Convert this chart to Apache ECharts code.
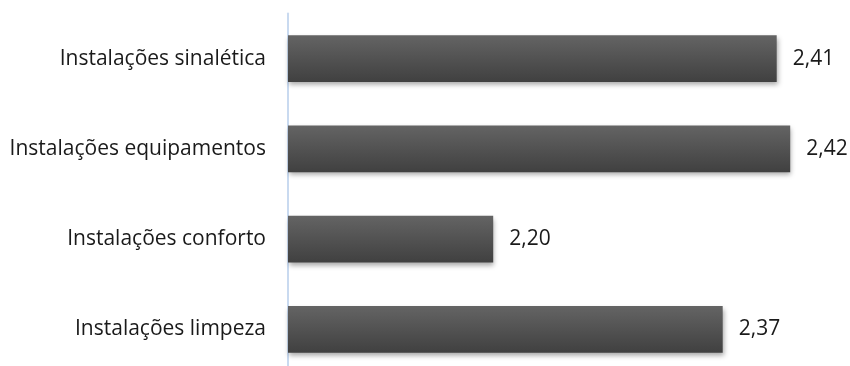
<!DOCTYPE html>
<html>
<head>
<meta charset="utf-8">
<script src="https://cdn.jsdelivr.net/npm/echarts@6/dist/echarts.min.js"></script>
<style>
  html, body { margin: 0; padding: 0; background: #ffffff; }
  #chart { width: 850px; height: 366px; }
</style>
</head>
<body>
<div id="chart"></div>
<script>
// Categories listed top to bottom
const categories = [
  'Instalações sinalética',
  'Instalações equipamentos',
  'Instalações conforto',
  'Instalações limpeza'
];
const scores = [2.41, 2.42, 2.20, 2.37];

const chart = echarts.init(document.getElementById('chart'));

chart.setOption({
  animation: false,
  backgroundColor: '#ffffff',
  grid: { left: 288, top: 13.5, height: 361, width: 540, outerBoundsMode: 'none' },
  xAxis: {
    type: 'value',
    min: 2.048,
    max: 2.448,
    show: false
  },
  yAxis: {
    type: 'category',
    data: categories,
    inverse: true,
    axisLine: { show: true, lineStyle: { color: '#c9daf0', width: 2 } },
    axisTick: { show: false },
    axisLabel: {
      margin: 22,
      color: '#1a1a1a',
      fontFamily: 'Open Sans',
      fontSize: 21
    }
  },
  series: [{
    type: 'bar',
    data: scores,
    barCategoryGap: '48%',
    itemStyle: {
      color: new echarts.graphic.LinearGradient(0, 0, 0, 1, [
        { offset: 0, color: '#646464' },
        { offset: 1, color: '#404040' }
      ]),
      shadowColor: 'rgba(0,0,0,0.35)',
      shadowBlur: 5,
      shadowOffsetX: 1,
      shadowOffsetY: 3
    },
    label: {
      show: true,
      position: 'right',
      distance: 16,
      color: '#1a1a1a',
      fontFamily: 'Open Sans',
      fontSize: 21,
      formatter: p => p.value.toFixed(2).replace('.', ',')
    }
  }]
});
</script>
</body>
</html>
